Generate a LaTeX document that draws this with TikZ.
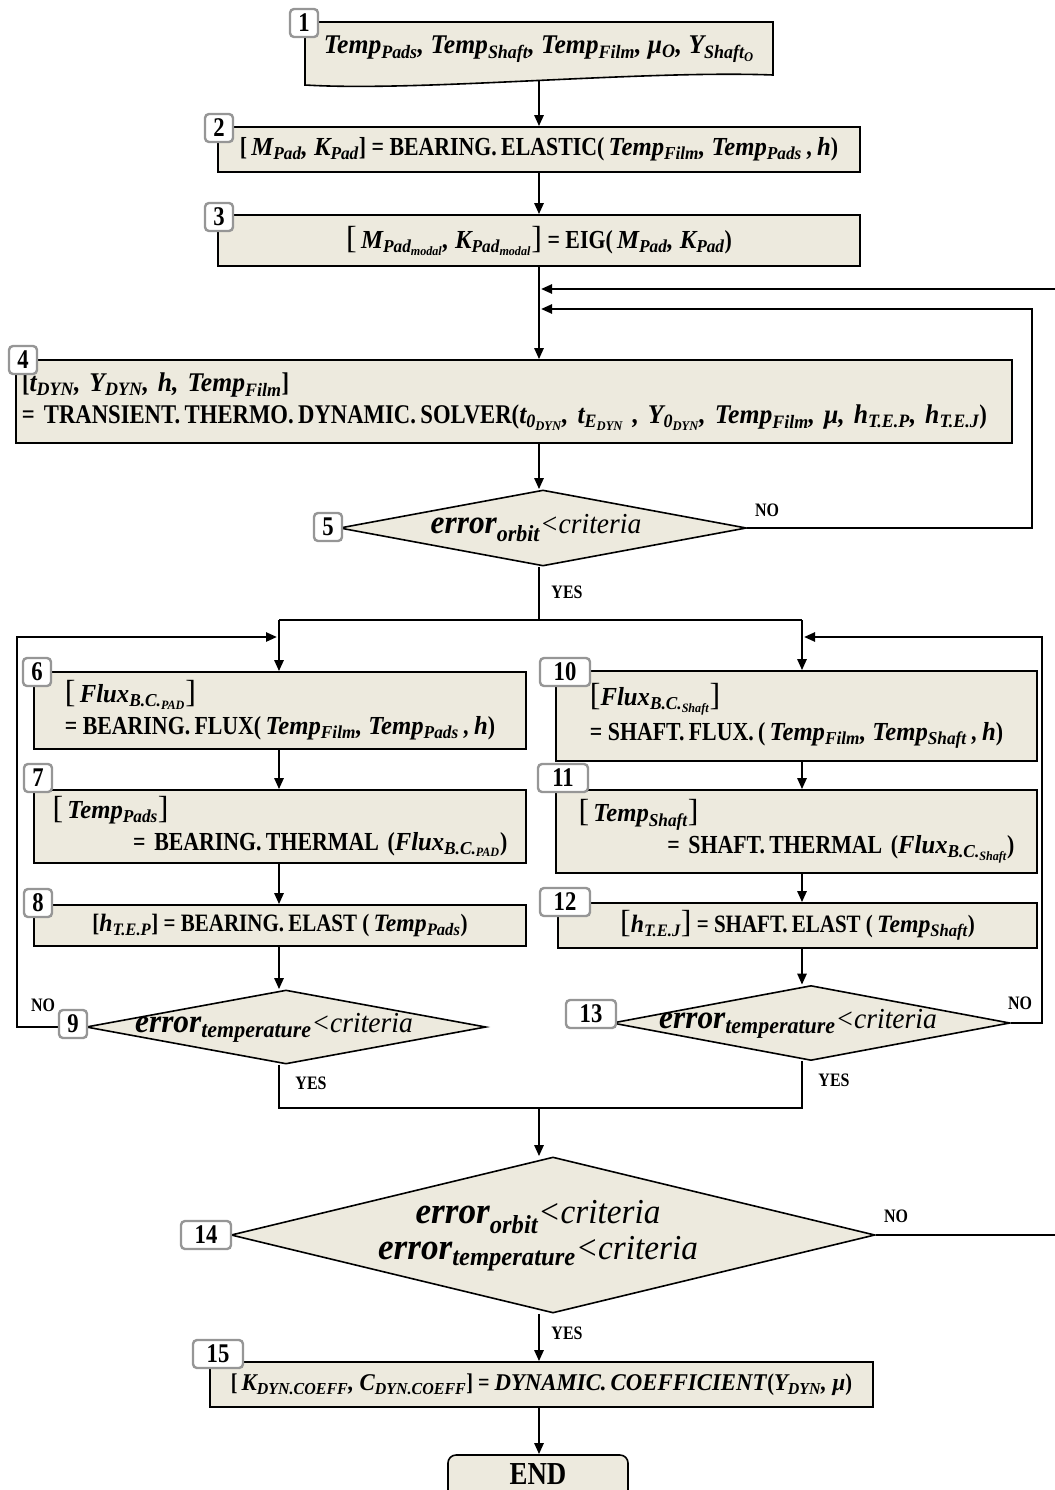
\documentclass[tikz,border=0pt]{standalone}
\usepackage{fontspec}
\setmainfont{Liberation Serif}[BoldFeatures={FakeStretch=0.84},
  BoldItalicFeatures={FakeStretch=0.95}, ItalicFeatures={FakeStretch=0.95}]
\usetikzlibrary{shapes.geometric,arrows.meta}
\definecolor{boxfill}{RGB}{237,234,222}
\definecolor{tagline}{RGB}{150,150,150}
% bold italic variable, subscript
\newcommand\vr[1]{\textbf{\textit{#1}}}
\newcommand\lo[1]{\textsubscript{#1}}
\newcommand\bsize{\fontsize{26}{32}\selectfont\bfseries}
\newcommand\bigbr[1]{{\fontsize{32}{32}\selectfont\mdseries #1}}
\newcommand\crit{{\fontsize{29}{29}\selectfont\mdseries\itshape <criteria}}
\newcommand\bigcrit{{\fontsize{35}{35}\selectfont\mdseries\itshape <criteria}}
\tikzset{
  flow/.style={line width=2.4pt, -{Triangle[length=11pt,width=9pt]}},
  link/.style={line width=2.4pt},
  proc/.style={draw, line width=1.6pt, fill=boxfill, rectangle, inner sep=0pt, font=\bsize},
  dec/.style={diamond, draw, line width=1.6pt, fill=boxfill, inner sep=0pt},
  dtext/.style={align=center, inner sep=0pt},
  tag/.style={draw=tagline, line width=2.4pt, fill=white, rounded corners=4pt, inner sep=0pt,
              minimum width=28pt, minimum height=28pt, font=\fontsize{27}{27}\selectfont\bfseries},
  wtag/.style={tag, minimum width=50pt},
  yn/.style={font=\fontsize{19}{19}\selectfont\bfseries},
}
\begin{document}
\begin{tikzpicture}[x=1pt,y=-1pt]
\useasboundingbox (0,0) rectangle (1054,1490);
\coordinate (cx) at (539,0);

% ---- initialisation and pad model ----
\node[proc, minimum width=642, minimum height=45] (b2) at (539,149.5)
  {[\,\vr{M\lo{Pad}, K\lo{Pad}}] = BEARING.\,ELASTIC(\,\vr{Temp\lo{Film}, Temp\lo{Pads}}\,, \vr{h})};
\coordinate (b1w) at (539,80);
\draw[flow] (b1w) -- (b2.north);
\draw[line width=1.6pt, fill=boxfill] (305,22) -- (773,22) -- (773,75)
  .. controls (640,70) and (420,92) .. (305,85) -- cycle;
\node[font=\fontsize{27}{32}\selectfont\bfseries] (b1) at (539,49)
  {\vr{Temp\lo{Pads}, Temp\lo{Shaft}, Temp\lo{Film}, μ\lo{O}, Y\lo{Shaft\lo{O}}}};

\node[proc, minimum width=642, minimum height=51] (b3) at (539,240.5)
  {\bigbr{[}\,\vr{M\lo{Pad\lo{modal}}, K\lo{Pad\lo{modal}}}\bigbr{]} = EIG(\,\vr{M\lo{Pad}, K\lo{Pad}})};
\draw[flow] (b2.south) -- (b3.north);

% ---- dynamic solver ----
\node[proc, minimum width=996, minimum height=83, text width=984, inner xsep=6, align=left,
      font=\fontsize{27}{32}\selectfont\bfseries] (b4) at (514,401.5)
  {[\vr{t\lo{DYN}, Y\lo{DYN}, h, Temp\lo{Film}}]\\
   = TRANSIENT.\,THERMO.\,DYNAMIC.\,SOLVER(\vr{t\lo{0\lo{DYN}}, t\lo{E\lo{DYN}} , Y\lo{0\lo{DYN}}, Temp\lo{Film}, μ, h\lo{T.E.P}, h\lo{T.E.J}})};
\draw[flow] (b3.south) -- (cx |- b4.north);

\node[dec, minimum width=407, minimum height=76] (d5) at (543,528) {};
\node[dtext] (d5t) at (536,528)
  {\fontsize{33}{33}\selectfont\vr{error\lo{orbit}}\crit};
\draw[flow] (cx |- b4.south) -- (cx |- d5.north);

% orbit loop
\coordinate (r5) at (1032,309);
\coordinate (m5) at (541,309);
\draw[flow] (d5.east) -| (r5) -- (m5);
\node[yn] (no5) at (767,510) {NO};

% ---- split into pad and shaft branches ----
\coordinate (sp) at (539,620);
\coordinate (spL) at (279,620);
\coordinate (spR) at (802,620);
\draw[link] (cx |- d5.south) -- (sp);
\draw[link] (spL) -- (spR);
\node[yn] (yes5) at (567,592) {YES};

% pad branch
\node[proc, minimum width=492, minimum height=77, align=left] (b6) at (280,710.5)
  {\bigbr{[}\,\vr{Flux\lo{B.C.\lo{PAD}}}\bigbr{]}\\
   = BEARING.\,FLUX(\,\vr{Temp\lo{Film}, Temp\lo{Pads}}\,, \vr{h})};
\node[proc, minimum width=492, minimum height=73, text width=455, inner xsep=18, align=left] (b7) at (280,826.5)
  {\bigbr{[}\,\vr{Temp\lo{Pads}}\bigbr{]}\\
   \hspace*{\fill}= BEARING.\,THERMAL (\vr{Flux\lo{B.C.\lo{PAD}}})};
\node[proc, minimum width=492, minimum height=41, font=\fontsize{25}{30}\selectfont\bfseries] (b8) at (280,925.5)
  {[\vr{h\lo{T.E.P}}] = BEARING.\,ELAST (\,\vr{Temp\lo{Pads}})};
\node[dec, minimum width=400, minimum height=74] (d9) at (286,1027) {};
\node[dtext] (d9t) at (274,1028)
  {\fontsize{33}{33}\selectfont\vr{error\lo{temperature}}\crit};

\draw[flow] (spL) -- (spL |- b6.north);
\draw[flow] (spL |- b6.south) -- (spL |- b7.north);
\draw[flow] (spL |- b7.south) -- (spL |- b8.north);
\draw[flow] (spL |- b8.south) -- (spL |- d9.north);

\coordinate (l9) at (17,637);
\coordinate (m9) at (277,637);
\draw[flow] (d9.west) -| (l9) -- (m9);
\node[yn] (no9) at (43,1005) {NO};
\node[yn] (yes9) at (311,1083) {YES};

% shaft branch
\node[proc, minimum width=481, minimum height=90, align=left] (b10) at (796.5,716)
  {\bigbr{[}\vr{Flux\lo{B.C.\lo{Shaft}}}\bigbr{]}\\[3pt]
   = SHAFT.\,FLUX.\,(\,\vr{Temp\lo{Film}, Temp\lo{Shaft}}\,, \vr{h})};
\node[proc, minimum width=481, minimum height=83, text width=436, inner xsep=22, align=left] (b11) at (796.5,831.5)
  {\bigbr{[}\,\vr{Temp\lo{Shaft}}\bigbr{]}\\
   \hspace*{\fill}= SHAFT.\,THERMAL (\vr{Flux\lo{B.C.\lo{Shaft}}})};
\node[proc, minimum width=479, minimum height=45, font=\fontsize{25}{30}\selectfont\bfseries] (b12) at (797.5,925.5)
  {\bigbr{[}\vr{h\lo{T.E.J}}\bigbr{]} = SHAFT.\,ELAST (\,\vr{Temp\lo{Shaft}})};
\node[dec, minimum width=398, minimum height=75] (d13) at (811,1023) {};
\node[dtext] (d13t) at (798,1024)
  {\fontsize{33}{33}\selectfont\vr{error\lo{temperature}}\crit};

\draw[flow] (spR) -- (spR |- b10.north);
\draw[flow] (spR |- b10.south) -- (spR |- b11.north);
\draw[flow] (spR |- b11.south) -- (spR |- b12.north);
\draw[flow] (spR |- b12.south) -- (spR |- d13.north);

\coordinate (r13) at (1042,637);
\coordinate (m13) at (804,637);
\draw[flow] (d13.east) -| (r13) -- (m13);
\node[yn] (no13) at (1020,1003) {NO};
\node[yn] (yes13) at (834,1080) {YES};

% ---- merge and global check ----
\coordinate (mg) at (539,1108);
\draw[link] (spL |- d9.south) -- (spL |- mg) -- (spR |- mg) -- (spR |- d13.south);

\node[dec, minimum width=644, minimum height=156] (d14) at (553,1235) {};
\node[dtext] (d14t) at (538,1236)
  {\fontsize{37}{37}\selectfont\vr{error\lo{orbit}}\bigcrit\\[2pt]
   \fontsize{37}{37}\selectfont\vr{error\lo{temperature}}\bigcrit};
\draw[flow] (mg) -- (cx |- d14.north);

% global loop, closing beyond the right border
\coordinate (r14a) at (1075,1235);
\coordinate (r14b) at (1075,289);
\coordinate (m14) at (541,289);
\draw[flow] (d14.east) -- (r14a) -- (r14b) -- (m14);
\node[yn] (no14) at (896,1216) {NO};
\node[yn] (yes14) at (567,1333) {YES};

\node[proc, minimum width=663, minimum height=45, font=\fontsize{24}{30}\selectfont\bfseries] (b15) at (541.5,1384.5)
  {[\,\vr{K\lo{DYN.COEFF}, C\lo{DYN.COEFF}}] = \vr{DYNAMIC.\,COEFFICIENT}(\vr{Y\lo{DYN}, μ})};
\draw[flow] (cx |- d14.south) -- (cx |- b15.north);

\node[proc, rounded corners=8pt, minimum width=180, minimum height=50] (endn) at (538,1480) {};
\node[font=\fontsize{32}{32}\selectfont\bfseries, inner sep=1pt] (endt) at (538,1474) {END};
\draw[flow] (cx |- b15.south) -- (cx |- endn.north);

% ---- step numbers ----
\node[tag] (t1) at (304,23) {1};
\node[tag] (t2) at (219,128) {2};
\node[tag] (t3) at (219,217) {3};
\node[tag] (t4) at (23,360) {4};
\node[tag] (t5) at (328,527) {5};
\node[tag] (t6) at (37,672) {6};
\node[tag] (t7) at (38,778) {7};
\node[tag] (t8) at (38,903) {8};
\node[tag] (t9) at (73,1024) {9};
\node[wtag] (t10) at (565,672) {10};
\node[wtag] (t11) at (563,778) {11};
\node[wtag] (t12) at (565,902) {12};
\node[wtag] (t13) at (591,1014) {13};
\node[wtag] (t14) at (206,1235) {14};
\node[wtag] (t15) at (218,1354) {15};
\end{tikzpicture}
\end{document}
